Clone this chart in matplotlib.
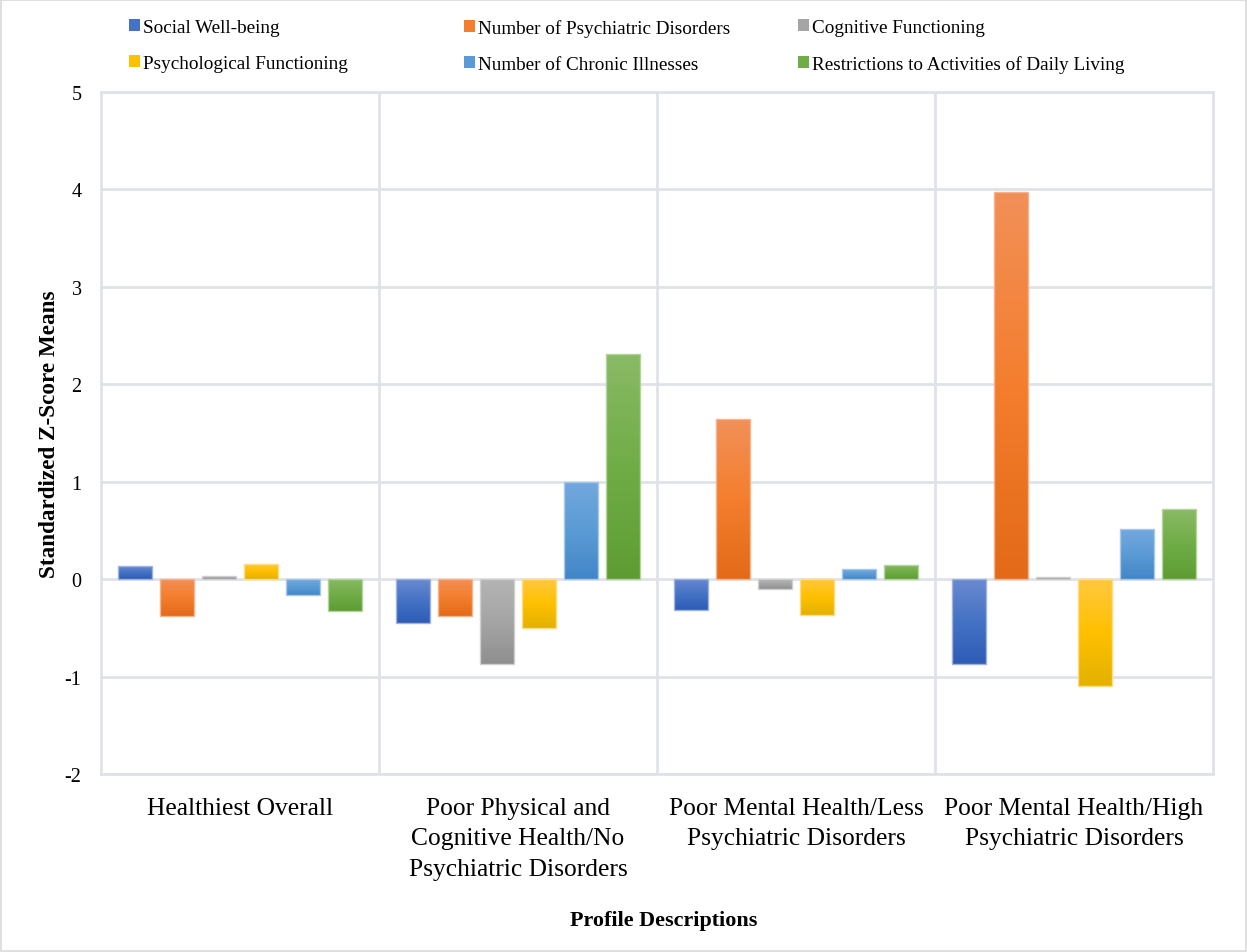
import numpy as np
import matplotlib
matplotlib.use("Agg")
import matplotlib.pyplot as plt
from matplotlib.colors import LinearSegmentedColormap
from matplotlib.patches import Rectangle

plt.rcParams["font.family"] = ["Liberation Serif", "DejaVu Serif"]

profiles = [
    "Healthiest Overall",
    "Poor Physical and\nCognitive Health/No\nPsychiatric Disorders",
    "Poor Mental Health/Less\nPsychiatric Disorders",
    "Poor Mental Health/High\nPsychiatric Disorders",
]
series_names = [
    "Social Well-being",
    "Number of Psychiatric Disorders",
    "Cognitive Functioning",
    "Psychological Functioning",
    "Number of Chronic Illnesses",
    "Restrictions to Activities of Daily Living",
]
social = [0.13, -0.45, -0.32, -0.87]
psychiatric = [-0.38, -0.38, 1.64, 3.97]
cognitive = [0.03, -0.87, -0.10, 0.02]
psychological = [0.16, -0.50, -0.37, -1.10]
chronic = [-0.16, 1.00, 0.10, 0.51]
adl = [-0.33, 2.31, 0.15, 0.72]
series_values = [social, psychiatric, cognitive, psychological, chronic, adl]

# (top, middle, bottom) shades for the vertical gradient of each series
shades = [
    ("#6a8ad0", "#4472c4", "#2e5cb6"),
    ("#f29058", "#f47e2e", "#e26a18"),
    ("#b4b4b4", "#a5a5a5", "#8f8f8f"),
    ("#ffc940", "#ffc000", "#e3b100"),
    ("#73a8de", "#5b9bd5", "#4386c8"),
    ("#8aba66", "#70ad47", "#5e9c33"),
]
edge_colors = ["#9fb3e0", "#f6b48c", "#cfcfcf", "#ffdc80", "#a8c8ea", "#b3d49a"]
grid_color = "#dfe3e9"

fig = plt.figure(figsize=(12.47, 9.53), dpi=100)
ax = fig.add_axes([0.081, 0.1868, 0.8917, 0.7156])

x = np.arange(len(profiles))
step = 0.151
width = 0.1223
ymin, ymax = -2, 5

grad = np.linspace(0, 1, 256).reshape(-1, 1)
for i, (vals, sh) in enumerate(zip(series_values, shades)):
    offs = x + (i - 2.5) * step
    bars = ax.bar(offs, vals, width=width, color=sh[1], zorder=2,
                  linewidth=0)
    cmap = LinearSegmentedColormap.from_list(f"g{i}", [sh[0], sh[1], sh[2]])
    for b in bars:
        x0, y0 = b.get_x(), b.get_y()
        w, h = b.get_width(), b.get_height()
        lo, hi = min(y0, y0 + h), max(y0, y0 + h)
        im = ax.imshow(grad, cmap=cmap, aspect="auto", origin="upper",
                       extent=(x0, x0 + w, lo, hi), zorder=2.5,
                       interpolation="bicubic")
        im.set_clip_path(b)
    ax.bar(offs, vals, width=width, fill=False, edgecolor=edge_colors[i],
           linewidth=1.0, zorder=3)

ax.set_xlim(-0.5, len(profiles) - 0.5)
ax.set_ylim(ymin, ymax)
ax.set_yticks(np.arange(ymin, ymax + 1))
ax.set_yticklabels([str(v) for v in range(ymin, ymax + 1)], fontsize=14.5)
ax.set_xticks(x)
ax.set_xticklabels(profiles, fontsize=18.4, linespacing=1.49)
ax.tick_params(axis="both", length=0)
ax.tick_params(axis="y", pad=14)
ax.tick_params(axis="x", pad=16.5)

# horizontal gridlines and category separators
ax.grid(axis="y", color=grid_color, linewidth=2, zorder=1)
for sep in x[:-1] + 0.5:
    ax.axvline(sep, color=grid_color, linewidth=2, zorder=1)
for s in ax.spines.values():
    s.set_color(grid_color)
    s.set_linewidth(2)
ax.set_axisbelow(True)

ax.set_ylabel("Standardized Z-Score Means", fontsize=16.7, fontweight="bold")
ax.yaxis.set_label_coords(-0.037, 0.5)
fig.text(0.532, 0.034, "Profile Descriptions", fontsize=15.9,
         fontweight="bold", ha="center", va="center")

# legend: three columns of two entries each
col_x = [0.0990, 0.3676, 0.6352]
for c in range(3):
    idx = [c, c + 3]
    handles = [Rectangle((0, 0), 1, 1, facecolor=shades[k][1], edgecolor="none")
               for k in idx]
    fig.legend(handles, [series_names[k] for k in idx], loc="upper left",
               bbox_to_anchor=(col_x[c], 0.985), frameon=False, fontsize=13.8,
               handlelength=0.56, handleheight=0.56, handletextpad=0.17,
               labelspacing=0.98, borderpad=0.3, borderaxespad=0)

# thin outer border
fig.add_artist(Rectangle((0.001, 0.001), 0.998, 0.998, transform=fig.transFigure,
                         fill=False, edgecolor="#d9d9d9", linewidth=1.2))

fig.savefig("out.png", dpi=100)
